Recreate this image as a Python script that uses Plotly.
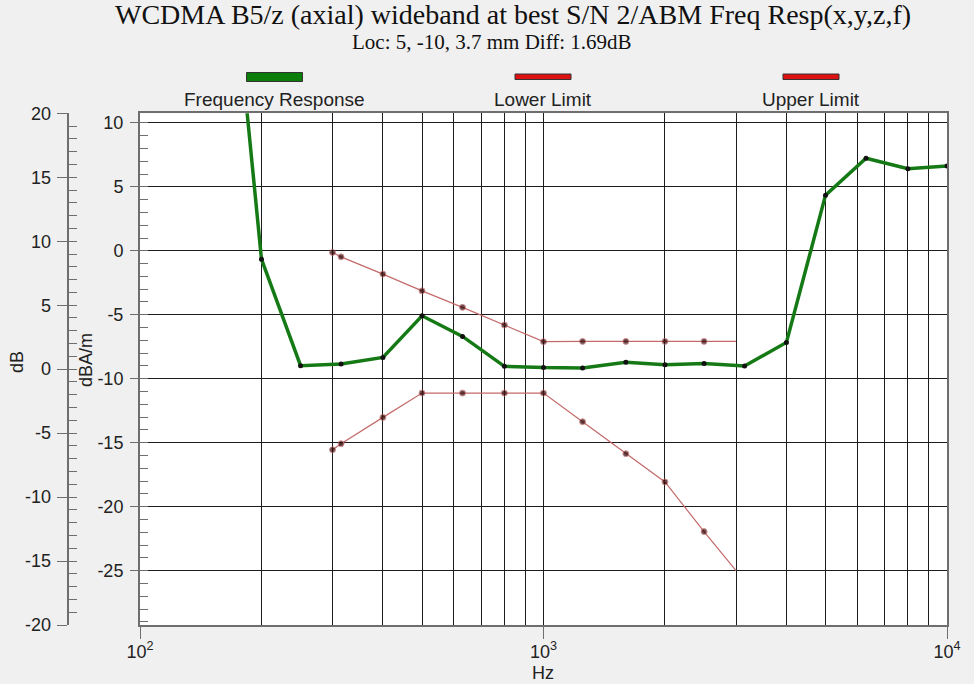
import plotly.graph_objects as go

# Frequency response of the ABM signal (dBA/m) at third-octave frequencies
response_hz = [160, 200, 250, 315, 400, 500, 630, 800, 1000, 1250, 1600,
               2000, 2500, 3150, 4000, 5000, 6300, 8000, 10000]
response_dba = [30.5, -0.65, -8.98, -8.85, -8.33, -5.08, -6.69, -9.03, -9.13,
                -9.16, -8.72, -8.90, -8.80, -9.00, -7.16, 4.35, 7.24, 6.41, 6.64]

# Limit mask frequencies and values (dBA/m)
limit_hz = [300, 315, 400, 500, 630, 800, 1000, 1250, 1600, 2000, 2500, 3000]
lower_dba = [-15.55, -15.08, -13.02, -11.12, -11.12, -11.12, -11.12,
             -13.36, -15.86, -18.07, -21.95, -25.0]
upper_dba = [-0.13, -0.47, -1.82, -3.13, -4.42, -5.80, -7.10,
             -7.08, -7.08, -7.08, -7.08, -7.08]

series_names = ["Frequency Response", "Lower Limit", "Upper Limit"]
series_colors = ["#0b7d0b", "#dd1111", "#dd1111"]

title_text = "WCDMA B5/z (axial) wideband at best S/N 2/ABM Freq Resp(x,y,z,f)"
subtitle_text = "Loc: 5, -10, 3.7 mm Diff: 1.69dB"

x_tick_vals = [100, 1000, 10000]
x_tick_text = ["10<sup>2</sup>", "10<sup>3</sup>", "10<sup>4</sup>"]
x_grid_vals = [200, 300, 400, 500, 600, 700, 800, 900,
               2000, 3000, 4000, 5000, 6000, 7000, 8000, 9000]

dba_ticks = [10, 5, 0, -5, -10, -15, -20, -25]
db_ticks = [20, 15, 10, 5, 0, -5, -10, -15, -20]

dba_range = [-29.25, 10.75]
db_range = [-20, 20]

W, H = 974, 684


def fx(px):
    return px / W


def fy(py):
    return 1 - py / H


SANS = "Arial, Liberation Sans, sans-serif"
SERIF = "Times New Roman, Liberation Serif, serif"
GRID = "#1c1c1c"
AXIS = "#6e6e6e"
TICKFONT = dict(family=SANS, size=18, color="#222222")

fig = go.Figure()

# Limit masks: thin line, markers on every point but the closing one
limit_marker_sizes = [6] * (len(limit_hz) - 1) + [0]
fig.add_trace(go.Scatter(
    x=limit_hz, y=lower_dba, mode="lines+markers", name=series_names[1],
    line=dict(color="#c46a6a", width=1.2),
    marker=dict(color="#2a0000", size=limit_marker_sizes),
))
fig.add_trace(go.Scatter(
    x=limit_hz, y=upper_dba, mode="lines+markers", name=series_names[2],
    line=dict(color="#c46a6a", width=1.2),
    marker=dict(color="#2a0000", size=limit_marker_sizes),
))
fig.add_trace(go.Scatter(
    x=response_hz, y=response_dba, mode="lines+markers", name=series_names[0],
    line=dict(color="#157a15", width=3.5),
    marker=dict(color="#111111", size=5),
))

# Empty traces so the relative dB scale axes are rendered
fig.add_trace(go.Scatter(x=[], y=[], yaxis="y2", hoverinfo="skip", showlegend=False))
fig.add_trace(go.Scatter(x=[], y=[], yaxis="y3", hoverinfo="skip", showlegend=False))

fig.update_layout(
    width=W, height=H,
    margin=dict(l=0, r=0, t=0, b=0, autoexpand=False),
    paper_bgcolor="#f0f0f0",
    plot_bgcolor="#ffffff",
    showlegend=False,
    font=dict(family=SANS, size=17, color="#222222"),
    xaxis=dict(
        type="log", range=[2, 4], automargin=False,
        domain=[fx(140), fx(947)],
        tickvals=x_tick_vals, ticktext=x_tick_text,
        ticks="outside", ticklen=12, tickcolor=AXIS, tickwidth=1,
        ticklabelstandoff=-3,
        showgrid=True, gridcolor=GRID, gridwidth=1,
        minor=dict(tickvals=x_grid_vals, showgrid=True, gridcolor=GRID,
                   gridwidth=1, ticks=""),
        showline=True, linecolor=AXIS, linewidth=2, mirror=True,
        zeroline=False,
        tickfont=TICKFONT,
    ),
    yaxis=dict(
        range=dba_range, automargin=False,
        domain=[fy(625), fy(113.3)],
        tickvals=dba_ticks, ticktext=[str(v) for v in dba_ticks],
        ticks="outside", ticklen=8, tickcolor=AXIS,
        minor=dict(tick0=0, dtick=1, ticks="inside", ticklen=8,
                   tickcolor=AXIS, showgrid=False),
        showgrid=True, gridcolor=GRID, gridwidth=1,
        showline=True, linecolor=AXIS, linewidth=2, mirror=True,
        zeroline=False,
        ticklabelstandoff=3,
        tickfont=TICKFONT,
    ),
    yaxis2=dict(
        range=db_range, overlaying="y", anchor="free", side="left",
        position=fx(67.7), automargin=False,
        tickvals=db_ticks, ticktext=[str(v) for v in db_ticks],
        ticks="outside", ticklen=10, tickcolor=AXIS,
        showgrid=False, zeroline=False,
        showline=True, linecolor=AXIS, linewidth=2,
        ticklabelstandoff=2,
        tickfont=TICKFONT,
    ),
    yaxis3=dict(
        range=db_range, overlaying="y", anchor="free", side="left",
        position=fx(67.7), automargin=False,
        tick0=0, dtick=1,
        ticks="inside", ticklen=8, tickcolor=AXIS,
        showticklabels=False, showgrid=False, zeroline=False,
        showline=False,
    ),
)

annotations = [
    dict(text=title_text, x=fx(513), y=fy(15), font=dict(family=SERIF, size=28, color="#111111")),
    dict(text=subtitle_text, x=fx(492), y=fy(42), font=dict(family=SERIF, size=21, color="#111111")),
    dict(text="dB", x=fx(17), y=fy(362), textangle=-90, font=dict(family=SANS, size=18)),
    dict(text="dBA/m", x=fx(86), y=fy(360), textangle=-90, font=dict(family=SANS, size=18)),
    dict(text="Hz", x=fx(543), y=fy(673), font=dict(family=SANS, size=18)),
]

# Legend: swatch above each series name
legend_centers = [274.5, 543, 811]
swatch_heights = [(72.5, 81.5), (74, 79.5), (74, 79.5)]
shapes = []
for name, color, cx, (y0, y1) in zip(series_names, series_colors, legend_centers, swatch_heights):
    shapes.append(dict(type="rect", xref="paper", yref="paper",
                       x0=fx(cx - 28), x1=fx(cx + 28), y0=fy(y1), y1=fy(y0),
                       fillcolor=color, line=dict(color="#333333", width=1)))
    annotations.append(dict(text=name, x=fx(cx), y=fy(99),
                            font=dict(family=SANS, size=19, color="#222222")))

for a in annotations:
    a.update(xref="paper", yref="paper", showarrow=False,
             xanchor="center", yanchor="middle")

fig.update_layout(annotations=annotations, shapes=shapes)

fig.write_html("out.html")
